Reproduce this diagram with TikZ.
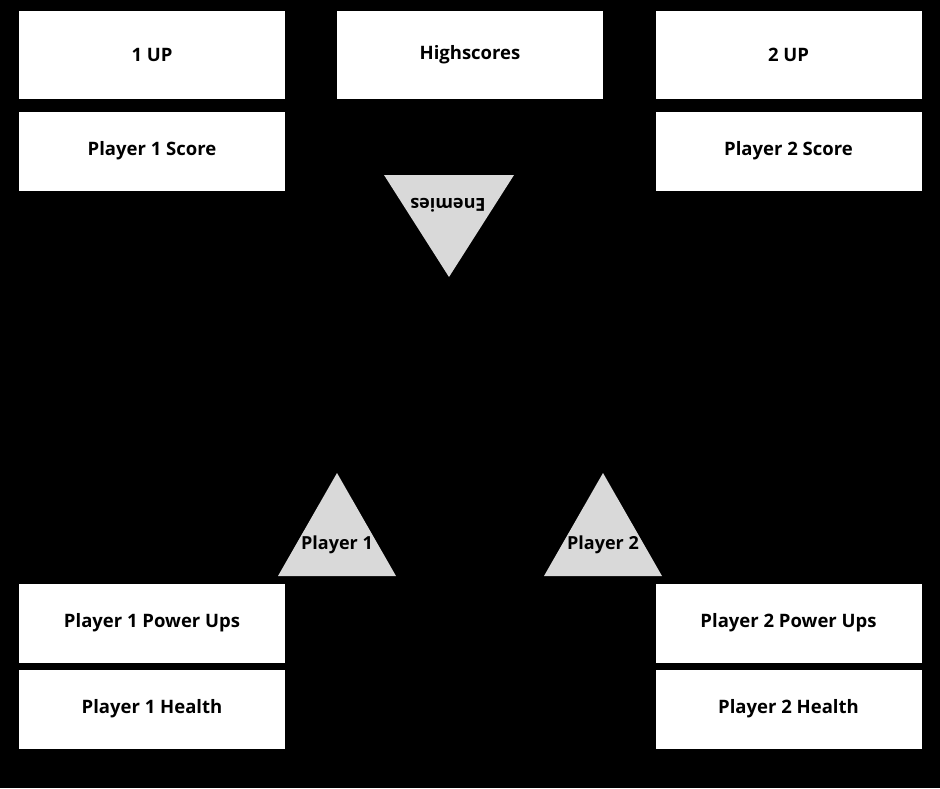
\documentclass[tikz,border=0pt]{standalone}
\usepackage{fontspec}
\setmainfont{Open Sans}
\usepackage{tikz}
\usetikzlibrary{positioning}

\begin{document}
\begin{tikzpicture}[
    x = 1pt, y = -1pt, % pixel grid of the screen
    box/.style = {fill = white, inner sep = 0pt, minimum width = 266pt,
      font = \bfseries\fontsize{18.5}{20}\selectfont},
    tall/.style = {box, minimum height = 88pt},
    short/.style = {box, minimum height = 79pt},
    sprite/.style = {fill = black!15},
    label/.style = {font = \bfseries\fontsize{18}{20}\selectfont}
    ]

    % screen
    \fill[black] (0,0) rectangle (940,788);
    \useasboundingbox (0,0) rectangle (940,788);

    % top bar
    \node[tall] (up1) at (152,55) {1 UP};
    \node[tall] (high) at (470,55) {Highscores};
    \node[tall] (up2) at (788.5,55) {2 UP};
    \node[short] (score1) at (152,151) {Player 1 Score};
    \node[short] (score2) at (788.5,151) {Player 2 Score};

    % bottom bar
    \node[short] (power1) at (152,623) {Player 1 Power Ups};
    \node[short] (health1) at (152,709) {Player 1 Health};
    \node[short] (power2) at (788.5,623) {Player 2 Power Ups};
    \node[short] (health2) at (788.5,709) {Player 2 Health};

    % sprites
    \fill[sprite] (384,175) -- (514,175) -- (449,277) -- cycle;
    \fill[sprite] (337,473) -- (396,576) -- (278,576) -- cycle;
    \fill[sprite] (603,473) -- (662,576) -- (544,576) -- cycle;
    \node[label, rotate = 180] (enemies) at (448,205) {Enemies};
    \node[label] (player1) at (337,545) {Player 1};
    \node[label] (player2) at (603,545) {Player 2};
\end{tikzpicture}
\end{document}
